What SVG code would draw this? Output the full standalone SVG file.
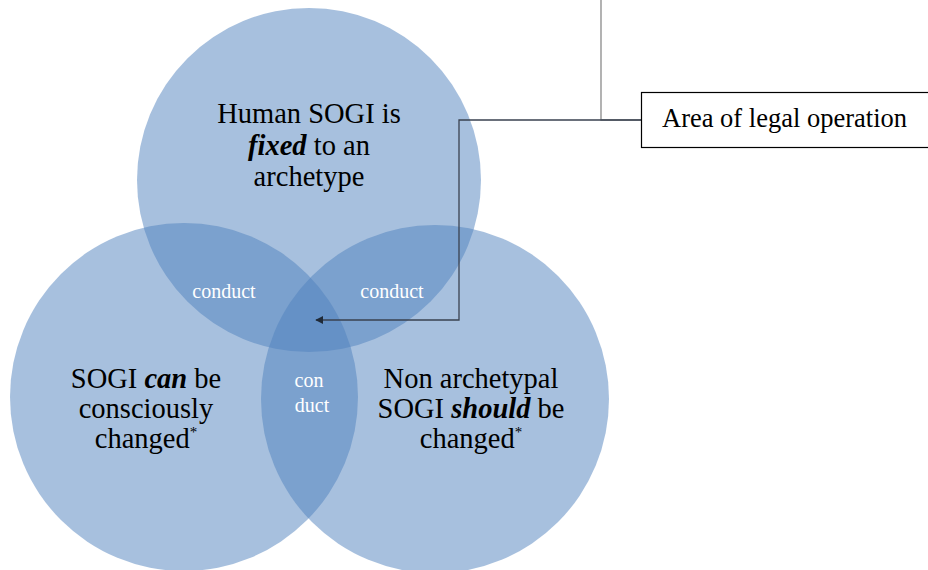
<svg xmlns="http://www.w3.org/2000/svg" width="928" height="570" viewBox="0 0 928 570">
<defs>
<style>
.c{fill:#4f81bd;fill-opacity:0.5}
.t{font-family:"Liberation Serif",serif;font-size:28.5px;fill:#000;text-anchor:middle}
.w{font-family:"Liberation Serif",serif;font-size:20px;fill:#fff;text-anchor:middle}
.l{font-family:"Liberation Serif",serif;font-size:26.5px;fill:#000}
</style>
<marker id="ah" viewBox="0 0 10 10" refX="9" refY="5" markerWidth="8" markerHeight="8" orient="auto-start-reverse" markerUnits="userSpaceOnUse"><path d="M0,0 L10,5 L0,10 z" fill="#1f2a38"/></marker>
</defs>
<rect width="928" height="570" fill="#fff"/>
<g id="top-circle"><circle class="c" cx="309" cy="180" r="172"/></g>
<g id="left-circle"><circle class="c" cx="184" cy="397" r="174"/></g>
<g id="right-circle"><circle class="c" cx="435" cy="399" r="174"/></g>
<g id="connectors">
<polyline points="601,0 601,120 641,120" fill="none" stroke="#8a8a8a" stroke-width="1.3"/>
<polyline points="641,120 459,120 459,320 316,320" fill="none" stroke="#3a4250" stroke-width="1.3" marker-end="url(#ah)"/>
</g>
<g id="top-text">
<text class="t" x="309" y="123">Human SOGI is</text>
<text class="t" x="309" y="155"><tspan font-weight="bold" font-style="italic">fixed</tspan> to an</text>
<text class="t" x="309" y="186">archetype</text>
</g>
<g id="left-text">
<text class="t" x="146" y="388">SOGI <tspan font-weight="bold" font-style="italic">can</tspan> be</text>
<text class="t" x="146" y="418">consciously</text>
<text class="t" x="146" y="448">changed<tspan font-size="15" dy="-11">*</tspan></text>
</g>
<g id="right-text">
<text class="t" x="471" y="388">Non archetypal</text>
<text class="t" x="471" y="418">SOGI <tspan font-weight="bold" font-style="italic">should</tspan> be</text>
<text class="t" x="471" y="448">changed<tspan font-size="15" dy="-11">*</tspan></text>
</g>
<g id="overlap-labels">
<text class="w" x="224" y="298">conduct</text>
<text class="w" x="392" y="298">conduct</text>
<text class="w" x="309" y="387">con</text>
<text class="w" x="312" y="412">duct</text>
</g>
<g id="legal-box">
<rect x="641.5" y="92.5" width="300" height="55" fill="#fff" stroke="#000" stroke-width="1.2"/>
<text class="l" x="662" y="127">Area of legal operation</text>
</g>
</svg>
